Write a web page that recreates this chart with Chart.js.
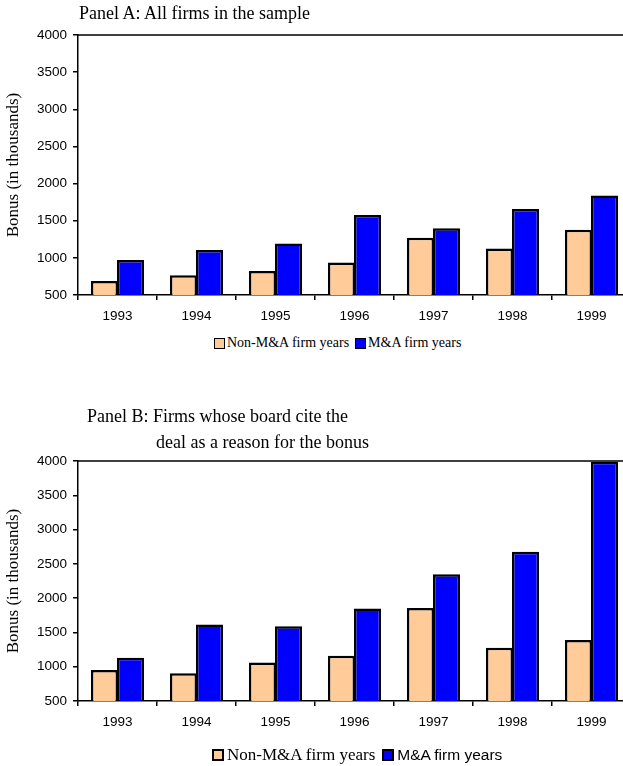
<!DOCTYPE html>
<html>
<head>
<meta charset="utf-8">
<script src="https://cdn.jsdelivr.net/npm/chart.js@4.4.0/dist/chart.umd.min.js"></script>
<style>
  html, body { margin: 0; padding: 0; background: #fff; overflow: hidden; width: 623px; height: 766px; }
  .wrap { position: absolute; left: 0; width: 632px; }
  .ttl { position: absolute; font-family: "Liberation Serif", "Times New Roman", serif; font-size: 18px; line-height: 1; white-space: nowrap; color: #000; }
  .legend { position: absolute; display: flex; align-items: center; white-space: nowrap; color: #000; }
  .box { display: inline-block; box-sizing: border-box; border: 2px solid #000; }
</style>
</head>
<body>
<div class="wrap" style="top:0;height:330px;"><canvas id="chartA"></canvas></div>
<div class="wrap" style="top:380px;height:386px;"><canvas id="chartB"></canvas></div>

<div class="ttl" style="left:79px;top:4px;">Panel A: All firms in the sample</div>
<div class="ttl" style="left:87px;top:407px;">Panel B: Firms whose board cite the</div>
<div class="ttl" style="left:156px;top:433px;">deal as a reason for the bonus</div>

<div class="legend" style="left:214px;top:334px;height:18px;font-family:'Liberation Serif',serif;font-size:14px;">
  <span class="box" style="width:11px;height:11px;background:#FFCC99;border-width:1.5px;"></span>
  <span style="margin-left:2px;">Non-M&amp;A firm years</span>
  <span class="box" style="width:11px;height:11px;background:#0000FF;border-width:1.5px;margin-left:6px;"></span>
  <span style="margin-left:2px;">M&amp;A firm years</span>
</div>

<div class="legend" style="left:212px;top:745px;height:20px;">
  <span class="box" style="width:12px;height:12px;background:#FFCC99;"></span>
  <span style="margin-left:3px;font-family:'Liberation Serif',serif;font-size:17px;">Non-M&amp;A firm years</span>
  <span class="box" style="width:12px;height:12px;background:#0000FF;margin-left:7px;"></span>
  <span style="margin-left:3px;font-family:'Liberation Sans',Arial,sans-serif;font-size:15.5px;">M&amp;A firm years</span>
</div>

<script>
const years = ['1993', '1994', '1995', '1996', '1997', '1998', '1999'];
const seriesNames = ['Non-M&A firm years', 'M&A firm years'];

// Panel A: all firms in the sample
const allNonMA = [690, 765, 823, 936, 1272, 1125, 1380];
const allMA = [971, 1106, 1192, 1577, 1398, 1658, 1838];

// Panel B: firms whose board cite the deal
const citeNonMA = [951, 903, 1063, 1159, 1857, 1275, 1391];
const citeMA = [1130, 1615, 1590, 1848, 2347, 2676, 3990];

const yTicks = [500, 1000, 1500, 2000, 2500, 3000, 3500, 4000];

const peach = '#FFCC99';
const blue = '#0000FF';

// top frame line of the plot box
const topLine = {
    id: 'topLine',
    afterDraw(chart) {
        const a = chart.chartArea;
        const c = chart.ctx;
        c.save();
        c.strokeStyle = '#000';
        c.lineWidth = 1.5;
        c.beginPath();
        c.moveTo(a.left, a.top);
        c.lineTo(chart.width, a.top);
        c.stroke();
        c.restore();
    }
};

function makeChart(id, nonMA, ma, padTop, xHeight) {
    const ctx = document.getElementById(id);
    return new Chart(ctx, {
        type: 'bar',
        data: {
            labels: years,
            datasets: [
                { label: seriesNames[0], data: nonMA, backgroundColor: peach },
                { label: seriesNames[1], data: ma, backgroundColor: blue }
            ].map(ds => Object.assign(ds, {
                borderColor: '#000',
                borderWidth: 2.5,
                borderSkipped: false,
                inflateAmount: 0,
                categoryPercentage: 0.66,
                barPercentage: 1.04
            }))
        },
        options: {
            responsive: true,
            maintainAspectRatio: false,
            animation: false,
            events: [],
            layout: { padding: { top: padTop, right: 1, bottom: 0, left: 0 } },
            plugins: {
                legend: { display: false },
                title: { display: false },
                tooltip: { enabled: false }
            },
            scales: {
                x: {
                    afterFit: s => { s.height = xHeight; },
                    border: { color: '#000', width: 1.5 },
                    grid: { offset: true, drawOnChartArea: false, color: '#000', tickLength: 5, lineWidth: 1.5 },
                    ticks: {
                        color: '#000',
                        padding: 8,
                        maxRotation: 0,
                        font: { family: "'Liberation Sans', Arial, sans-serif", size: 13.5 }
                    }
                },
                y: {
                    min: 500,
                    max: 4000,
                    afterFit: s => { s.width = 78; },
                    afterBuildTicks: s => { s.ticks = yTicks.map(v => ({ value: v })); },
                    border: { color: '#000', width: 1.5 },
                    grid: { drawOnChartArea: false, color: '#000', tickLength: 5, lineWidth: 1.5 },
                    ticks: {
                        color: '#000',
                        padding: 6,
                        callback: v => String(v),
                        font: { family: "'Liberation Sans', Arial, sans-serif", size: 13.5 }
                    },
                    title: {
                        display: true,
                        text: 'Bonus (in thousands)',
                        color: '#000',
                        padding: { top: 3, bottom: 0 },
                        font: { family: "'Liberation Serif', 'Times New Roman', serif", size: 17 }
                    }
                }
            }
        },
        plugins: [topLine]
    });
}

makeChart('chartA', allNonMA, allMA, 35, 35);
makeChart('chartB', citeNonMA, citeMA, 81, 65);
</script>
</body>
</html>
